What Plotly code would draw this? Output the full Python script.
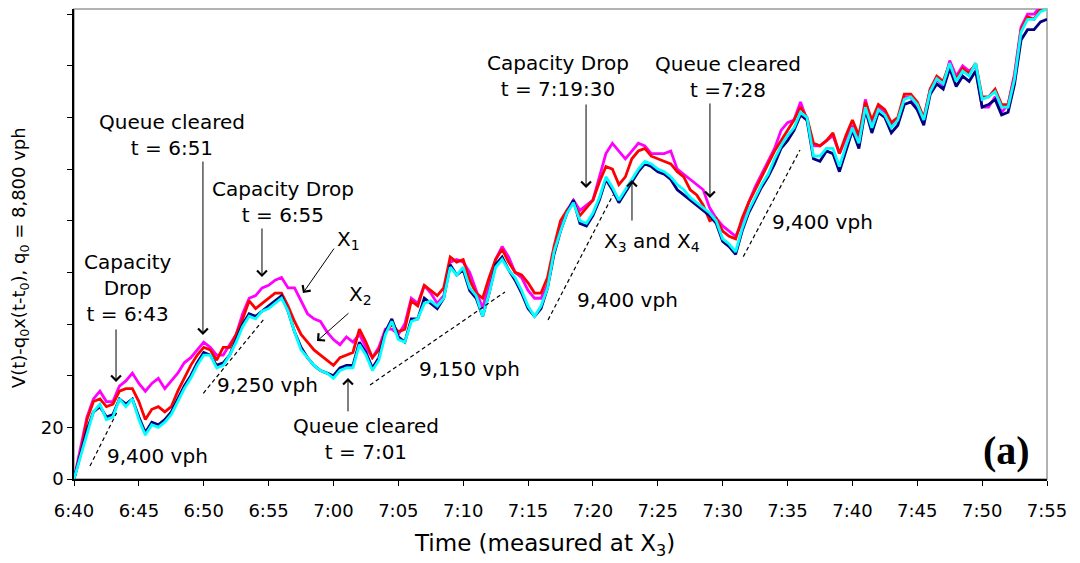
import plotly.graph_objects as go

# sample times: minutes after 6:40, every 0.5 min
minutes = [i * 0.5 for i in range(151)]

x1_magenta = [0, 12, 24, 31, 34, 30, 30, 36, 38, 41, 37, 34, 37, 39, 35, 38, 41, 45, 47, 50,
              53, 51, 48, 48, 52, 56, 64, 70, 71, 74, 75, 77, 78, 74, 74, 69, 64, 62, 61, 57,
              54, 52, 55, 53, 56, 51, 47, 51, 58, 58, 56, 60, 70, 68, 75, 72, 68, 71, 84, 85,
              84, 80, 73, 66, 76, 85, 90, 86, 80, 78, 73, 70, 70, 75, 88, 97, 104, 108, 104, 106,
              108, 117, 126, 130, 127, 124, 127, 130, 129, 126, 126, 126, 127, 120, 118, 116, 114, 112, 105, 101,
              98, 96, 94, 99, 107, 113, 118, 123, 128, 135, 138, 139, 146, 139, 129, 129, 131, 133, 126, 132,
              137, 131, 147, 137, 144, 142, 137, 139, 148, 148, 143, 139, 151, 155, 152, 162, 156, 160, 158, 160,
              144, 144, 148, 142, 145, 157, 175, 180, 180, 183, 184]

x2_red = [0, 10, 23, 30, 31, 28, 29, 34, 35, 35, 30, 23, 27, 28, 26, 28, 34, 39, 44, 48,
          51, 50, 46, 51, 51, 56, 62, 69, 66, 68, 70, 72, 72, 67, 61, 56, 53, 50, 48, 46,
          44, 47, 48, 49, 58, 53, 47, 50, 57, 60, 57, 58, 69, 67, 75, 73, 71, 74, 86, 84,
          85, 77, 72, 70, 78, 85, 89, 84, 80, 79, 76, 72, 72, 78, 90, 100, 104, 107, 102, 105,
          108, 115, 121, 120, 114, 117, 124, 127, 128, 125, 124, 123, 122, 119, 117, 112, 110, 106, 100, 101,
          96, 94, 93, 101, 107, 112, 117, 122, 127, 131, 135, 139, 144, 140, 130, 129, 131, 134, 126, 133,
          139, 133, 146, 139, 145, 143, 138, 140, 149, 149, 146, 140, 151, 156, 154, 161, 155, 159, 157, 161,
          148, 148, 151, 145, 145, 156, 174, 179, 178, 182, 183]

x3_navy = [0, 10, 19, 26, 28, 24, 25, 31, 29, 31, 24, 18, 22, 21, 23, 26, 31, 36, 40, 45,
           49, 48, 44, 45, 48, 54, 60, 64, 63, 65, 67, 69, 71, 65, 57, 51, 47, 44, 42, 41,
           40, 43, 44, 44, 53, 49, 43, 47, 57, 62, 55, 53, 62, 62, 70, 68, 66, 70, 83, 79,
           81, 73, 70, 63, 72, 83, 86, 81, 77, 72, 66, 63, 66, 74, 87, 96, 103, 108, 99, 98,
           102, 108, 116, 112, 107, 111, 115, 119, 122, 121, 119, 118, 116, 112, 110, 108, 106, 104, 102, 99,
           92, 90, 87, 96, 103, 108, 113, 117, 122, 128, 131, 135, 141, 139, 124, 123, 127, 126, 119, 127,
           135, 128, 143, 134, 142, 140, 134, 137, 145, 146, 143, 137, 149, 153, 151, 159, 152, 156, 154, 158,
           144, 145, 147, 141, 142, 153, 170, 174, 174, 177, 178]

x4_cyan = [0, 9, 18, 26, 29, 23, 24, 31, 28, 31, 23, 17, 21, 20, 22, 25, 30, 35, 39, 44,
           48, 48, 43, 44, 48, 53, 59, 63, 62, 65, 66, 68, 70, 65, 57, 50, 47, 44, 42, 41,
           39, 42, 43, 43, 52, 48, 42, 46, 56, 61, 54, 53, 61, 62, 68, 69, 67, 70, 82, 79,
           82, 74, 71, 63, 72, 82, 85, 81, 78, 73, 67, 63, 67, 74, 88, 96, 103, 107, 100, 99,
           103, 109, 117, 113, 108, 112, 116, 120, 123, 122, 120, 119, 117, 114, 112, 109, 107, 105, 103, 100,
           93, 91, 88, 97, 104, 109, 114, 118, 124, 129, 133, 136, 142, 140, 125, 125, 128, 128, 121, 129,
           136, 130, 144, 136, 143, 141, 136, 139, 147, 148, 145, 139, 150, 155, 153, 161, 154, 158, 156, 161,
           147, 148, 150, 144, 144, 155, 173, 178, 178, 181, 182]

# reference slopes (start/end in minutes after 6:40 and vehicle counts)
ref_labels = ["9,400 vph", "9,250 vph", "9,150 vph", "9,400 vph", "9,400 vph"]
ref_t0 = [1.23, 9.97, 22.82, 36.54, 51.59]
ref_v0 = [5.0, 33.2, 36.4, 61.6, 86.1]
ref_t1 = [3.29, 14.59, 33.22, 41.55, 55.96]
ref_v1 = [25.6, 61.6, 72.4, 110.0, 127.4]

tick_minutes = [0, 5, 10, 15, 20, 25, 30, 35, 40, 45, 50, 55, 60, 65, 70, 75]
tick_labels = ["6:40", "6:45", "6:50", "6:55", "7:00", "7:05", "7:10", "7:15",
               "7:20", "7:25", "7:30", "7:35", "7:40", "7:45", "7:50", "7:55"]
y_ticks = [0, 20, 40, 60, 80, 100, 120, 140, 160, 180]
y_tick_labels = ["0", "20", "", "", "", "", "", "", "", ""]

FONT = "DejaVu Sans"

fig = go.Figure()
series = [("X1", x1_magenta, "#FF00FF"), ("X2", x2_red, "#FF0000"),
          ("X3", x3_navy, "#000080"), ("X4", x4_cyan, "#00FFFF")]
for name, vals, col in series:
    fig.add_trace(go.Scatter(x=minutes, y=vals, mode="lines", name=name,
                             line=dict(color=col, width=2.8), showlegend=False))

for i in range(len(ref_t0)):
    fig.add_trace(go.Scatter(x=[ref_t0[i], ref_t1[i]], y=[ref_v0[i], ref_v1[i]], mode="lines",
                             line=dict(color="black", width=1.2, dash="4px,3px"), showlegend=False))

annos = []
def txt(t, v, s, size=20):
    annos.append(dict(x=t, y=v, xref="x", yref="y", text=s, showarrow=False,
                      font=dict(family=FONT, size=size, color="black"),
                      xanchor="center", yanchor="middle", align="center"))

def arrow(t_head, v_head, t_tail, v_tail):
    annos.append(dict(x=t_head, y=v_head, ax=t_tail, ay=v_tail, xref="x", yref="y",
                      axref="x", ayref="y", text="", showarrow=True, arrowhead=4,
                      arrowsize=1.9, arrowwidth=1, arrowcolor="black", standoff=0,
                      startstandoff=0))

txt(4.16, 74.0, "Capacity<br>Drop<br>t = 6:43")
arrow(3.24, 37.6, 3.24, 58.5)
txt(7.55, 133.4, "Queue cleared<br>t = 6:51")
arrow(9.94, 55.8, 9.94, 123.5)
txt(16.11, 107.1, "Capacity Drop<br>t = 6:55")
arrow(14.49, 78.2, 14.49, 97.6)
txt(21.12, 92.6, "X<sub>1</sub>")
arrow(17.65, 72.0, 20.12, 89.8)
txt(22.12, 71.3, "X<sub>2</sub>")
arrow(18.73, 53.4, 21.27, 64.7)
txt(22.51, 15.3, "Queue cleared<br>t = 7:01")
arrow(21.12, 39.1, 21.12, 25.6)
txt(37.31, 156.1, "Capacity Drop<br>t = 7:19:30")
arrow(39.47, 112.7, 39.47, 145.6)
txt(50.41, 155.7, "Queue cleared<br>t =7:28")
arrow(49.02, 108.8, 49.02, 146.0)
txt(44.55, 91.8, "X<sub>3</sub> and X<sub>4</sub>")
arrow(43.01, 115.8, 43.01, 99.5)

label_pos = [(6.47, 8.9), (14.95, 36.4), (30.52, 42.6), (42.7, 69.3), (57.66, 99.5)]
for lab, (t, v) in zip(ref_labels, label_pos):
    txt(t, v, lab)

annos.append(dict(x=0.958, y=0.06, xref="paper", yref="paper", text="<b>(a)</b>",
                  showarrow=False, font=dict(family="Liberation Serif", size=40, color="black"),
                  xanchor="center", yanchor="middle"))
annos.append(dict(x=0.484, y=-0.1404, xref="paper", yref="paper",
                  text="Time (measured at X<sub>3</sub>)", showarrow=False,
                  font=dict(family=FONT, size=23, color="black"), xanchor="center", yanchor="middle"))
annos.append(dict(x=-0.0555, y=0.472, xref="paper", yref="paper", textangle=-90,
                  text="V(t)-q<sub>0</sub>x(t-t<sub>0</sub>), q<sub>0</sub> = 8,800 vph",
                  showarrow=False, font=dict(family=FONT, size=18, color="black"),
                  xanchor="center", yanchor="middle"))

fig.update_layout(
    width=1080, height=563,
    margin=dict(l=74, r=33, t=9, b=84),
    paper_bgcolor="white", plot_bgcolor="white",
    annotations=annos,
    shapes=[dict(type="rect", xref="paper", yref="paper", x0=0, y0=0, x1=1, y1=1,
                 line=dict(color="#999999", width=1.5), layer="below")],
)
fig.update_xaxes(range=[0, 75], tickmode="array", tickvals=tick_minutes, ticktext=tick_labels,
                 showgrid=False, zeroline=False, showline=True, linecolor="black", linewidth=1.5,
                 ticks="outside", ticklen=5, tickwidth=1.2, tickcolor="black",
                 tickfont=dict(family=FONT, size=18, color="black"), ticklabelstandoff=10)
fig.update_yaxes(range=[0, 182], tickmode="array", tickvals=y_ticks, ticktext=y_tick_labels,
                 showgrid=False, zeroline=False, showline=True, linecolor="black", linewidth=1.5,
                 ticks="outside", ticklen=5, tickwidth=1.2, tickcolor="black",
                 tickfont=dict(family=FONT, size=18, color="black"))

fig.write_html("out.html", config={"displayModeBar": False},
               post_script="document.body.style.margin='0';document.body.style.overflow='hidden';")
